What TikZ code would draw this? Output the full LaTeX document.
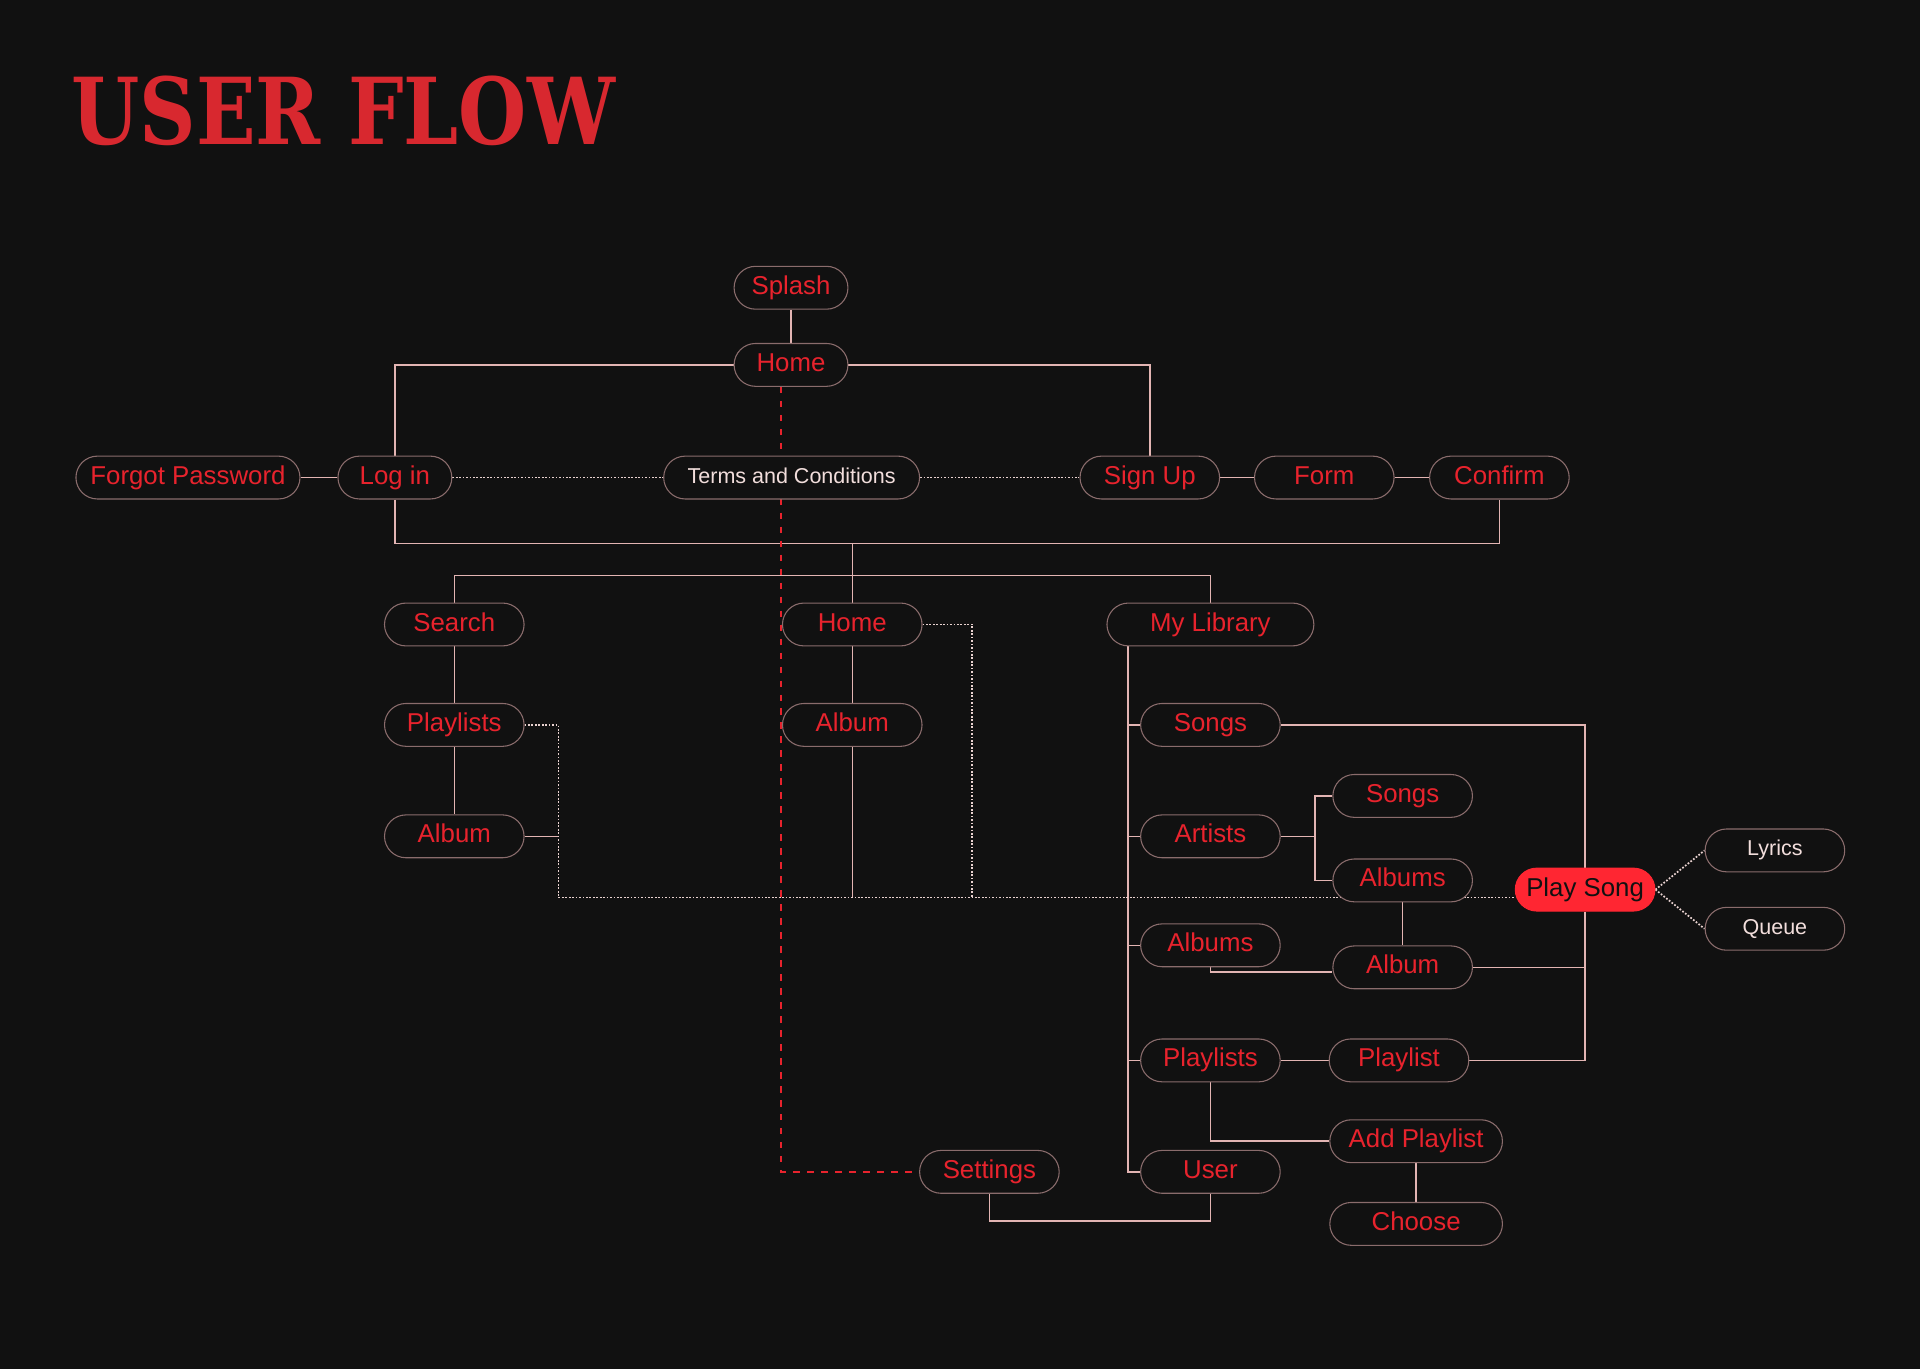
\documentclass[tikz,border=0pt]{standalone}
\usepackage{fontspec}
\setmainfont{Liberation Sans}
\newfontfamily\titlefont{DejaVu Serif}
\definecolor{bgdark}{HTML}{111111}
\definecolor{flowred}{HTML}{E8232D}
\definecolor{titlered}{HTML}{D8282F}
\definecolor{boxline}{HTML}{8A6C6C}
\definecolor{wire}{HTML}{E3B5B3}
\definecolor{dotwire}{HTML}{E9D2D0}
\definecolor{playred}{HTML}{FF2632}
\definecolor{paletext}{HTML}{F2DEDC}
\pgfdeclarelayer{back}
\pgfdeclarelayer{wires}
\pgfsetlayers{back,wires,main}
\tikzset{
  screen/.style={draw=boxline, line width=0.5pt, fill=bgdark, rounded corners=0.35cm,
    minimum width=2.28cm, minimum height=0.7cm, inner sep=0pt, text=flowred,
    text height=8.6pt, text depth=2.5pt, font=\fontsize{12}{14}\selectfont},
  note/.style={screen, text=paletext, text height=7.2pt, text depth=2.1pt,
    font=\fontsize{10}{12}\selectfont},
  solidwire/.style={draw=wire, line width=0.7pt},
  dotwire/.style={draw=dotwire, line width=0.8pt, dash pattern=on 0.8pt off 0.8pt},
  redwire/.style={draw=flowred, line width=0.8pt, dash pattern=on 3pt off 3.5pt}
}
\begin{document}
\begin{tikzpicture}[x=0.02cm, y=-0.02cm]
  \begin{pgfonlayer}{back}
    \fill[bgdark] (0,0) rectangle (1568,1118);
  \end{pgfonlayer}
  \useasboundingbox (0,0) rectangle (1568,1118);
  \node[anchor=base west, inner sep=0pt, text=titlered] (title) at (58,118)
    {\resizebox{8.88cm}{1.12cm}{\titlefont\bfseries USER FLOW}};
  \node[screen, minimum width=1.86cm] (splash) at (646,235) {Splash};
  \node[screen, minimum width=1.86cm] (home) at (646,298) {Home};
  \node[screen, minimum width=3.66cm] (forgot) at (153.5,390) {Forgot Password};
  \node[screen, minimum width=1.86cm] (login) at (322.5,390) {Log in};
  \node[note, minimum width=4.18cm] (terms) at (646.5,390) {Terms and Conditions};
  \node[screen] (signup) at (939,390) {Sign Up};
  \node[screen] (form) at (1081.5,390) {Form};
  \node[screen] (confirm) at (1224.5,390) {Confirm};
  \node[screen] (search) at (371,510) {Search};
  \node[screen] (tabhome) at (696,510) {Home};
  \node[screen, minimum width=3.38cm] (library) at (988.5,510) {My Library};
  \node[screen] (srchlists) at (371,592) {Playlists};
  \node[screen] (srchalbum) at (371,683) {Album};
  \node[screen] (homealbum) at (696,592) {Album};
  \node[screen] (libsongs) at (988.5,592) {Songs};
  \node[screen] (libartists) at (988.5,683) {Artists};
  \node[screen] (libalbums) at (988.5,772) {Albums};
  \node[screen] (liblists) at (988.5,866) {Playlists};
  \node[screen] (user) at (988.5,957) {User};
  \node[screen] (artsongs) at (1145.5,650) {Songs};
  \node[screen] (artalbums) at (1145.5,719) {Albums};
  \node[screen] (album) at (1145.5,790) {Album};
  \node[screen] (playlist) at (1142.5,866) {Playlist};
  \node[screen, minimum width=2.82cm] (addlist) at (1156.5,932) {Add Playlist};
  \node[screen, minimum width=2.82cm] (choose) at (1156.5,999.5) {Choose};
  \node[screen] (settings) at (808,957) {Settings};
  \node[screen, fill=playred, draw=playred, text=bgdark] (play) at (1294.5,726.5) {Play Song};
  \node[note] (lyrics) at (1449.5,694.5) {Lyrics};
  \node[note] (queue) at (1449.5,758.5) {Queue};
  \coordinate (gate) at (696,444);
  \coordinate (split) at (696,470);
  \coordinate (dotleft) at (456,733);
  \coordinate (homedrop) at (794,733);
  \begin{pgfonlayer}{wires}
    \begin{scope}[solidwire]
      \draw (splash) -- (home);
      \draw (home.west) -| (login.north);
      \draw (home.east) -| (signup.north);
      \draw (forgot) -- (login);
      \draw (signup) -- (form);
      \draw (form) -- (confirm);
      \draw (login.south) |- (gate) -| (confirm.south);
      \draw (gate) -- (split);
      \draw (search.north) |- (split) -| (library.north);
      \draw (split) -- (tabhome.north);
      \draw (search) -- (srchlists);
      \draw (srchlists) -- (srchalbum);
      \draw (srchalbum.east) -- (srchalbum.east -| dotleft);
      \draw (tabhome) -- (homealbum);
      \draw (homealbum.south) -- (homealbum.south |- dotleft);
      \draw (library.south) ++(-67.5,0) |- (user.west);
      \foreach \n in {libsongs,libartists,libalbums,liblists}
        \draw (\n.west) -- ++(-11,0);
      \draw (libsongs.east) -| (play.north);
      \draw (play.south) |- (playlist.east);
      \draw (album.east) -- (album.east -| play.south);
      \draw (libartists.east) -- ++(28,0) coordinate (fork);
      \draw (artsongs.west) -| (fork) |- (artalbums.west);
      \draw (artalbums) -- (album);
      \draw (libalbums.south) |- ([yshift=-0.08cm]album.west);
      \draw (liblists) -- (playlist);
      \draw (liblists.south) |- (addlist.west);
      \draw (addlist) -- (choose);
      \draw (user.south) -- ++(0,22) -| (settings.south);
    \end{scope}
    \begin{scope}[dotwire]
      \draw (login) -- (terms);
      \draw (terms) -- (signup);
      \draw (srchlists.east) -| (dotleft) -- (dotleft -| play.west);
      \draw (tabhome.east) -| (homedrop);
      \draw (play.east) -- (lyrics.west);
      \draw (play.east) -- (queue.west);
    \end{scope}
    \draw[redwire] ([xshift=-0.16cm]home.south) |- (settings.west);
  \end{pgfonlayer}
\end{tikzpicture}
\end{document}
